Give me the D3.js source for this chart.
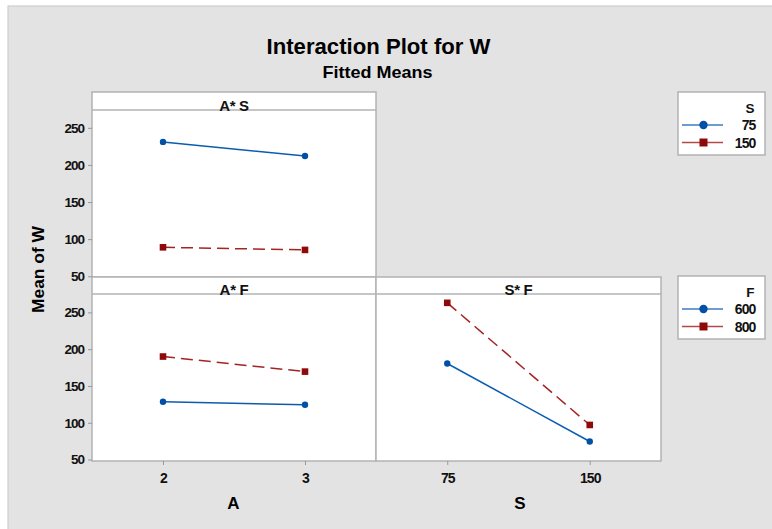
<!DOCTYPE html>
<html>
<head>
<meta charset="utf-8">
<script src="https://cdn.jsdelivr.net/npm/d3@7"></script>
<style>
  html, body { margin: 0; padding: 0; background: #fff; }
  svg { display: block; }
  text { font-family: "Liberation Sans", Arial, sans-serif; }
</style>
</head>
<body>
<svg id="chart" width="772" height="529"></svg>
<script>
// ---- Data ----
const title = "Interaction Plot for W";
const subtitle = "Fitted Means";
const yTitle = "Mean of W";
const levelsA = [2, 3];
const levelsS = [75, 150];
const levelsF = [600, 800];
// A*S panel: mean of W across A for each S level
const asS75 = [231, 212];
const asS150 = [89, 85.5];
// A*F panel: mean of W across A for each F level
const afF600 = [128.5, 124.5];
const afF800 = [190, 169.5];
// S*F panel: mean of W across S for each F level
const sfF600 = [180.5, 74.5];
const sfF800 = [263, 97];
const yTicks = [50, 100, 150, 200, 250];

// ---- Styles ----
const BLUE = "#0b5cb0";
const BLUE_M = "#0050a8";
const RED = "#a32424";
const RED_M = "#8e0a0a";
const GRID = "#b3b3b3";

const svg = d3.select("#chart");

// background
svg.append("rect").attr("x", 8).attr("y", 6).attr("width", 772).attr("height", 529)
  .attr("fill", "#e3e3e3").attr("stroke", "#cdcdcd").attr("stroke-width", 1.2);

// titles
svg.append("text").attr("x", 378.5).attr("y", 54).attr("text-anchor", "middle")
  .attr("font-size", 22).attr("font-weight", "bold")
  .attr("textLength", 224).attr("lengthAdjust", "spacingAndGlyphs").text(title);
svg.append("text").attr("x", 377.5).attr("y", 77.5).attr("text-anchor", "middle")
  .attr("font-size", 17).attr("font-weight", "bold")
  .attr("textLength", 110).attr("lengthAdjust", "spacingAndGlyphs").text(subtitle);

// layout
const L = 92, M = 376, R = 661;
const Y0 = 92, Y1 = 110, Y2 = 277, Y3 = 294, Y4 = 461;

const xA = d3.scaleLinear().domain([1.5, 3.5]).range([L, M]);
const xS = d3.scaleLinear().domain([37.5, 187.5]).range([M, R]);
const yTop = d3.scaleLinear().domain([49, 274]).range([Y2, Y1]);
const yBot = d3.scaleLinear().domain([48, 275]).range([Y4, Y3]);

function panel(x0, x1, yh, yp, yb, label) {
  svg.append("rect").attr("x", x0).attr("y", yh).attr("width", x1 - x0).attr("height", yb - yh)
    .attr("fill", "#fff").attr("stroke", GRID).attr("stroke-width", 1.5);
  svg.append("line").attr("x1", x0).attr("x2", x1).attr("y1", yp).attr("y2", yp)
    .attr("stroke", GRID).attr("stroke-width", 1.5);
  svg.append("text").attr("x", (x0 + x1) / 2).attr("y", yp + 0.5).attr("text-anchor", "middle")
    .attr("font-size", 15).attr("font-weight", "bold").attr("letter-spacing", -0.3)
    .attr("fill", "#111").text(label);
}
panel(L, M, Y0, Y1, Y2, "A* S");
panel(L, M, Y2, Y3, Y4, "A* F");
panel(M, R, Y2, Y3, Y4, "S* F");

function yAxis(scale) {
  const g = svg.append("g").attr("transform", `translate(${L},0)`)
    .call(d3.axisLeft(scale).tickValues(yTicks).tickSize(4).tickPadding(4));
  g.select(".domain").remove();
  g.selectAll(".tick line").attr("stroke", "#999");
  g.selectAll("text").attr("font-size", 13.5).attr("font-weight", "bold")
    .attr("letter-spacing", -1).attr("fill", "#111")
    .style("font-family", "'Liberation Sans', Arial, sans-serif");
}
yAxis(yTop);
yAxis(yBot);

function xAxis(scale, vals) {
  const g = svg.append("g").attr("transform", `translate(0,${Y4})`)
    .call(d3.axisBottom(scale).tickValues(vals).tickFormat(d3.format("d")).tickSize(4).tickPadding(8));
  g.select(".domain").remove();
  g.selectAll(".tick line").attr("stroke", "#999");
  g.selectAll("text").attr("font-size", 14).attr("font-weight", "bold")
    .attr("letter-spacing", -1).attr("fill", "#111")
    .style("font-family", "'Liberation Sans', Arial, sans-serif");
}
xAxis(xA, levelsA);
xAxis(xS, levelsS);

// axis titles
svg.append("text").attr("x", 233.5).attr("y", 509).attr("text-anchor", "middle")
  .attr("font-size", 17).attr("font-weight", "bold").text("A");
svg.append("text").attr("x", 520).attr("y", 509).attr("text-anchor", "middle")
  .attr("font-size", 17).attr("font-weight", "bold").text("S");
svg.append("text").attr("transform", "translate(43.5,269.5) rotate(-90)").attr("text-anchor", "middle")
  .attr("font-size", 16).attr("font-weight", "bold")
  .attr("textLength", 87).attr("lengthAdjust", "spacingAndGlyphs").text(yTitle);

// series drawing
function series(xs, xScale, ys, yScale, kind) {
  const pts = xs.map((x, i) => [xScale(x), yScale(ys[i])]);
  const line = d3.line();
  const p = svg.append("path").attr("d", line(pts)).attr("fill", "none")
    .attr("stroke-width", 1.5);
  if (kind === "circle") {
    p.attr("stroke", BLUE);
    svg.selectAll(null).data(pts).enter().append("circle")
      .attr("cx", d => d[0]).attr("cy", d => d[1]).attr("r", 3.2).attr("fill", BLUE_M);
  } else {
    p.attr("stroke", RED).attr("stroke-dasharray", "12,6");
    svg.selectAll(null).data(pts).enter().append("rect")
      .attr("x", d => d[0] - 3.3).attr("y", d => d[1] - 3.3)
      .attr("width", 6.6).attr("height", 6.6).attr("fill", RED_M);
  }
}
series(levelsA, xA, asS75, yTop, "circle");
series(levelsA, xA, asS150, yTop, "square");
series(levelsA, xA, afF600, yBot, "circle");
series(levelsA, xA, afF800, yBot, "square");
series(levelsS, xS, sfF600, yBot, "circle");
series(levelsS, xS, sfF800, yBot, "square");

// legends
function legend(y0, titleText, labels) {
  svg.append("rect").attr("x", 678).attr("y", y0).attr("width", 87).attr("height", 63)
    .attr("fill", "#fff").attr("stroke", GRID).attr("stroke-width", 1.5);
  svg.append("text").attr("x", 754.5).attr("y", y0 + 21).attr("text-anchor", "end")
    .attr("font-size", 13.5).attr("font-weight", "bold").attr("fill", "#111").text(titleText);
  labels.forEach((lab, i) => {
    const cy = y0 + 33 + i * 17.5;
    svg.append("line").attr("x1", 682).attr("x2", 723).attr("y1", cy).attr("y2", cy)
      .attr("stroke-width", 1.5).attr("stroke", i === 0 ? "#3a7cc4" : "#b24848");
    if (i === 0) {
      svg.append("circle").attr("cx", 703.5).attr("cy", cy).attr("r", 4.2).attr("fill", BLUE_M);
    } else {
      svg.append("rect").attr("x", 699.5).attr("y", cy - 4).attr("width", 8).attr("height", 8).attr("fill", RED_M);
    }
    svg.append("text").attr("x", 755.5).attr("y", cy + 5).attr("text-anchor", "end")
      .attr("font-size", 14).attr("font-weight", "bold").attr("letter-spacing", -0.9)
      .attr("fill", "#111").text(lab);
  });
}
legend(92, "S", levelsS.map(String));
legend(276, "F", levelsF.map(String));
</script>
</body>
</html>
